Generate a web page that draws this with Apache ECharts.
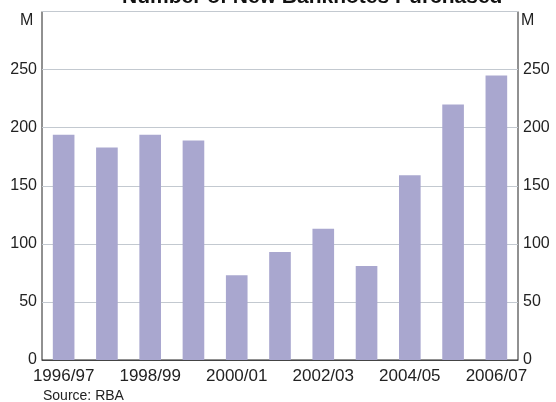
<!DOCTYPE html>
<html><head><meta charset="utf-8">
<script src="https://cdn.jsdelivr.net/npm/echarts@6/dist/echarts.min.js"></script>
<style>html,body{margin:0;padding:0;background:#fff}#c{width:556px;height:402px}</style>
</head><body><div id="c"></div>
<script>
const categories = ['1996/97','1997/98','1998/99','1999/00','2000/01','2001/02','2002/03','2003/04','2004/05','2005/06','2006/07'];
const banknotes = [194, 183, 194, 189, 73, 93, 113, 81, 159, 220, 245];
const yTicks = [0, 50, 100, 150, 200, 250, 300];

const font = 'Arial, "Liberation Sans", sans-serif';
const chart = echarts.init(document.getElementById('c'));
const yLabel = {
  fontSize: 16, color: '#222', fontFamily: font,
  formatter: v => (v === yTicks[yTicks.length - 1] ? '' : String(v))
};
chart.setOption({
  animation: false,
  title: {
    text: 'Number of New Banknotes Purchased', left: 117, top: -18,
    textStyle: { fontSize: 21, fontWeight: 'bold', color: '#111', fontFamily: font }
  },
  grid: { left: 42, right: 38, top: 11.5, bottom: 42, show: true, borderColor: '#222', borderWidth: 1 },
  xAxis: {
    type: 'category', data: categories,
    axisLine: { lineStyle: { color: '#444' } },
    axisTick: { inside: true, length: 5, interval: 0, alignWithLabel: false, lineStyle: { color: '#444' } },
    axisLabel: { interval: 1, fontSize: 17, color: '#222', fontFamily: font, margin: 8 }
  },
  yAxis: [
    { type: 'value', min: 0, max: 300, interval: 50, position: 'left',
      axisLine: { show: false }, axisTick: { show: false },
      splitLine: { lineStyle: { color: '#c3c9d0', width: 1 } },
      axisLabel: Object.assign({ margin: 5 }, yLabel) },
    { type: 'value', min: 0, max: 300, interval: 50, position: 'right',
      axisLine: { show: false }, axisTick: { show: false }, splitLine: { show: false },
      axisLabel: Object.assign({ margin: 5 }, yLabel) }
  ],
  series: [{
    type: 'bar', data: banknotes, barWidth: '50%',
    itemStyle: { color: '#a9a7cf' }
  }],
  graphic: [
    { type: 'text', left: 20, top: 13, style: { text: 'M', fontSize: 16, fill: '#222', fontFamily: font } },
    { type: 'text', left: 521, top: 13, style: { text: 'M', fontSize: 16, fill: '#222', fontFamily: font } },
    { type: 'text', left: 43, top: 389, style: { text: 'Source: RBA', fontSize: 14, fill: '#222', fontFamily: font } }
  ]
});
</script></body></html>
